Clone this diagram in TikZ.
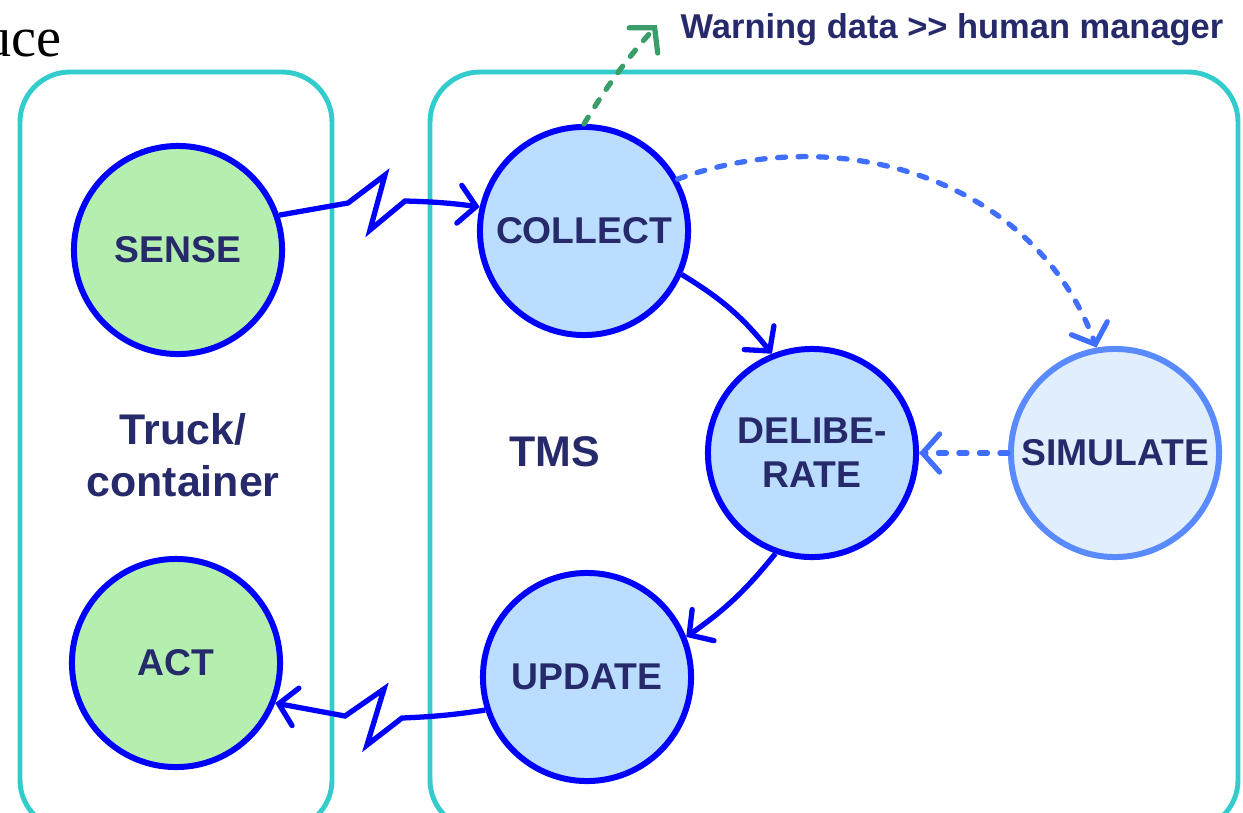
\documentclass[tikz,border=0pt]{standalone}
\usepackage{fontspec}
\setmainfont{Liberation Sans}
\newfontfamily\ucefont{Liberation Serif}
\usetikzlibrary{arrows.meta}

\definecolor{boxcyan}{RGB}{51,204,204}
\definecolor{linkblue}{RGB}{0,0,255}
\definecolor{dashblue}{RGB}{64,110,255}
\definecolor{simblue}{RGB}{90,138,255}
\definecolor{simfill}{RGB}{225,238,253}
\definecolor{tmsfill}{RGB}{187,221,255}
\definecolor{agentfill}{RGB}{181,239,175}
\definecolor{navytext}{RGB}{38,42,107}
\definecolor{warngreen}{RGB}{58,158,106}

\begin{document}
\begin{tikzpicture}[x=0.01cm,y=-0.01cm,
  every node/.style={text=navytext,font=\bfseries\fontsize{10.6}{12.5}\selectfont},
  agentnode/.style={circle,draw=linkblue,line width=1.7pt,fill=agentfill,minimum size=2.08cm,inner sep=0pt},
  tmsnode/.style={circle,draw=linkblue,line width=1.7pt,fill=tmsfill,minimum size=2.08cm,inner sep=0pt,align=center},
  simnode/.style={circle,draw=simblue,line width=1.7pt,fill=simfill,minimum size=2.08cm,inner sep=0pt},
  region/.style={draw=boxcyan,line width=1.4pt,rounded corners=0.5cm},
  biglabel/.style={font=\bfseries\fontsize{12.2}{14.8}\selectfont,align=center},
  link/.style={draw=linkblue,line width=1.5pt,line join=miter,-{Straight Barb[length=1.7mm,width=3.8mm,line cap=round]}},
  dashlink/.style={draw=dashblue,line width=1.5pt,line cap=round,dash pattern=on 0.8mm off 1.25mm,-{Straight Barb[length=1.7mm,width=3.8mm,line cap=round]}}
]
\useasboundingbox (0,0) rectangle (1243,812);

% the two regions
\draw[region] (20,72) rectangle (332,830);
\draw[region] (430,72) rectangle (1238,830);

% text
\node[font=\ucefont\fontsize{16}{18}\selectfont,text=black,anchor=base east,inner sep=0pt] (uce) at (62,57) {uce};
\node[font=\bfseries\fontsize{9.8}{12}\selectfont,anchor=west,inner sep=0pt] (warning) at (680,30) {Warning data >{}> human manager};
\node[biglabel] (truck) at (183,455) {Truck/\\container};
\node[biglabel] (tmslabel) at (555,452) {TMS};

% circles
\node[agentnode] (sense) at (178,250) {SENSE};
\node[agentnode] (act) at (176,663) {ACT};
\node[tmsnode] (collect) at (584,231) {COLLECT};
\node[tmsnode] (deliberate) at (812,453) {DELIBE-\\RATE};
\node[tmsnode] (update) at (587,677) {UPDATE};
\node[simnode] (simulate) at (1115,453) {SIMULATE};

\coordinate (warnend) at (657,25);

% connectors
\draw[link] (sense.19) -- (348,203) -- (385,175) -- (370,230) -- (405,201) to[bend left=3] (collect.167);
\draw[link] (update.198) to[bend left=3] (402,718) -- (367,745) -- (384,689) -- (345,716) -- (act.338);
\draw[link] (collect.-24) to[bend left=10] (deliberate.112);
\draw[link] (deliberate.250) to[bend left=8] (update.22);
\draw[dashlink] (collect.29) to[out=20,in=110] (simulate.100);
\draw[dashlink] (simulate.180) -- (deliberate.0);
\draw[dashlink,draw=warngreen] (collect.90) to[bend left=5] (warnend);
\end{tikzpicture}
\end{document}
